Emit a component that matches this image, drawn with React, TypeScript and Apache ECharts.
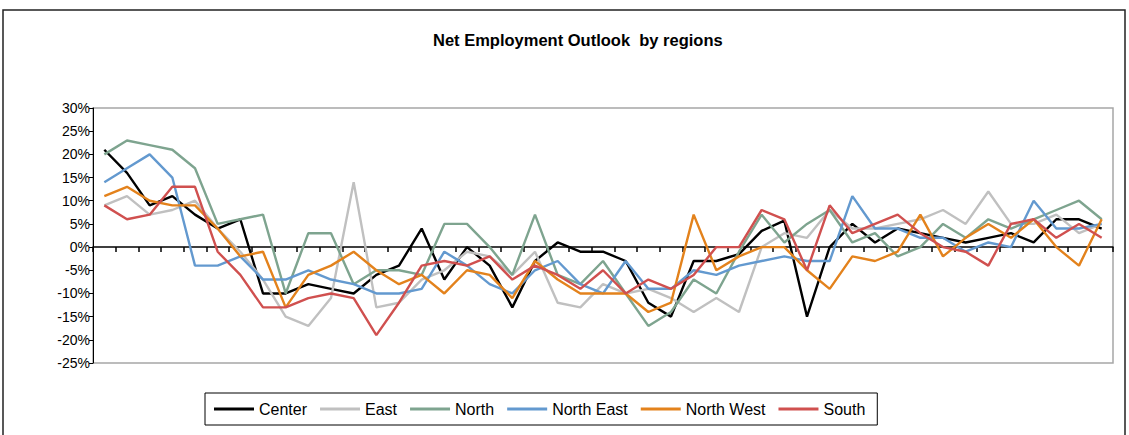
import React, { useEffect, useRef } from "react";
import * as echarts from "echarts";

const categories = Array.from({ length: 45 }, (_, i) => String(i + 1));
const seriesNames = ["Center", "East", "North", "North East", "North West", "South"];
const center = [21,16,9,11,7,4,6,-10,-10,-8,-9,-10,-6,-4,4,-7,0,-4,-13,-3,1,-1,-1,-3,-12,-15,-3,-3,-1.5,3.5,5.7,-15,0,5,1,4,3,2,1,2,3,1,6,6,4];
const east = [9,11,7,8,10,4,-1,-7,-15,-17,-11,14,-13,-12,-7,-5,-1,-2,-6,-1,-12,-13,-8,-10,-9,-11,-14,-11,-14,0,3,2,8,4,4,5,6,8,5,12,5,5,7,3,5];
const north = [20,23,22,21,17,5,6,7,-10,3,3,-8,-5,-5,-6,5,5,0,-6,7,-6,-8,-3,-10,-17,-14,-7,-10,-1,7,1,5,8,1,3,-2,0,5,2,6,4,6,8,10,6];
const northEast = [14,17,20,15,-4,-4,-2,-7,-7,-5,-7,-8,-10,-10,-9,-1,-4,-8,-10,-5,-3,-8,-10,-3,-9,-9,-5,-6,-4,-3,-2,-3,-3,11,4,4,2,2,-1,1,0,10,4,4,5];
const northWest = [11,13,10,9,9,4,-2,-1,-13,-6,-4,-1,-5,-8,-6,-10,-5,-6,-11,-3,-7,-10,-10,-10,-14,-12,7,-5,-2,0,0,-5,-9,-2,-3,-1,7,-2,2,5,2,6,0,-4,6];
const south = [9,6,7,13,13,-1,-6,-13,-13,-11,-10,-11,-19,-12,-4,-3,-4,-2,-7,-4,-6,-9,-5,-10,-7,-9,-6,0,0,8,6,-5,9,3,5,7,3,0,-1,-4,5,6,2,5,2];
const seriesData = [center, east, north, northEast, northWest, south];
const colors = ["#000000", "#c0c0c0", "#7ea48f", "#6399cf", "#e3821c", "#d0504f"];

const FONT = "Arial, 'Liberation Sans', sans-serif";

export default function App() {
  const ref = useRef<HTMLDivElement>(null);
  useEffect(() => {
    if (!ref.current) return;
    const chart = echarts.init(ref.current, undefined, { renderer: "svg" });
    chart.setOption({
      animation: false,
      backgroundColor: "#ffffff",
      title: {
        text: "Net Employment Outlook  by regions",
        left: 433,
        top: 31,
        padding: 0,
        textStyle: { fontFamily: FONT, fontSize: 16.5, fontWeight: "bold", color: "#000" },
      },
      graphic: [
        {
          type: "rect",
          shape: { x: 3, y: 10, width: 1122, height: 600 },
          style: { fill: "none", stroke: "#222", lineWidth: 1.5 },
          silent: true,
        },
      ],
      legend: {
        data: seriesNames,
        left: 205,
        top: 393,
        padding: [8, 12, 8, 9],
        itemWidth: 40,
        itemHeight: 3,
        itemGap: 13,
        icon: "rect",
        borderColor: "#000",
        borderWidth: 1,
        textStyle: { fontFamily: FONT, fontSize: 16, color: "#000" },
      },
      grid: {
        left: 93,
        right: 16,
        top: 108,
        height: 255,
        show: true,
        borderColor: "#a6a6a6",
        borderWidth: 1.5,
        backgroundColor: "transparent",
      },
      xAxis: {
        type: "category",
        data: categories,
        boundaryGap: true,
        axisLine: { onZero: true, lineStyle: { color: "#000", width: 1.5 } },
        axisTick: { show: true, length: 5, lineStyle: { color: "#000", width: 1.5 } },
        axisLabel: { show: false },
        splitLine: { show: false },
      },
      yAxis: {
        type: "value",
        min: -25,
        max: 30,
        interval: 5,
        axisLine: { show: true, lineStyle: { color: "#000", width: 1 } },
        axisTick: { show: true, length: 4, lineStyle: { color: "#000" } },
        axisLabel: {
          formatter: "{value}%",
          margin: 3,
          fontFamily: FONT,
          fontSize: 14,
          color: "#000",
        },
        splitLine: { show: false },
      },
      series: seriesNames.map((name, i) => ({
        name,
        type: "line",
        data: seriesData[i],
        symbol: "none",
        lineStyle: { color: colors[i], width: 2.4 },
        itemStyle: { color: colors[i] },
      })),
    });
    return () => chart.dispose();
  }, []);
  return (
    <div
      ref={ref}
      style={{ position: "fixed", left: 0, top: 0, width: 1129, height: 435, background: "#fff" }}
    />
  );
}
